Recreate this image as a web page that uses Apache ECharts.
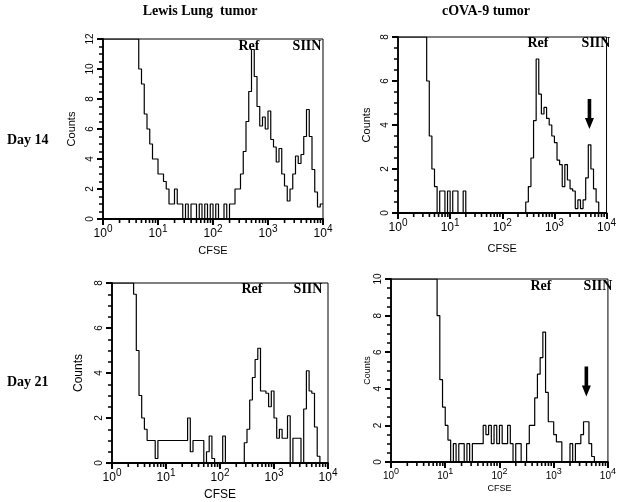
<!DOCTYPE html>
<html><head><meta charset="utf-8">
<script src="https://cdn.jsdelivr.net/npm/echarts@6/dist/echarts.min.js"></script>
<style>html,body{margin:0;padding:0;background:#fff}#c{width:619px;height:502px}</style>
</head><body><div id="c"></div>
<script>
// ---- data ----
const binsPerDecade = 20;            // histogram bins per decade of CFSE
const xTickValues = [1, 10, 100, 1000, 10000];
const minorMultipliers = [2, 3, 4, 5, 6, 7, 8, 9];
const columnTitles = ['Lewis Lung  tumor', 'cOVA-9 tumor'];
const rowTitles = ['Day 14', 'Day 21'];
const peakLabels = ['Ref', 'SIIN'];
const yMaxes = [12, 8, 8, 10];

const lewisDay14 = [12,12,12,12,12,12,12,12,12,12,12,12,12,
  10,9,7,6,5,4,4,3,3,2.5,2,1,1,2,1,1,
  0,1,0,1,1,0,1,0,1,0,1,0,1,0,0,1,0,1,
  1,2,2,3,4.5,6.5,8.5,11.3,9.5,7.5,6.2,6.8,6,7.2,5.3,4.8,3.8,4.7,3,2.2,1.2,2,3,4.2,3.7,4.3,5.5,7.3,5.5,3.3,1.8,0.8,1];
const covaDay14 = [8,8,8,8,8,8,8,8,8,8,8,
  6,3.5,2,1.2,0,1,1,0,1,0,1,1,0,0,1,
  0,0,0,0,0,0,0,0,0,0,0,0,0,0,0,0,0,0,0,0,0,0,0,
  0.5,1.2,2.5,4.2,7,5.4,4.5,4.8,4.3,4,3.5,3.2,2.4,2.2,1.2,2.2,1.5,1.1,1,0.2,0.6,0.2,0.6,1.6,3.1,2,1.1,0.5,0,0,0];
const lewisDay21 = [8,8,8,8,8,8,8,8,
  7.5,5,3,2,1.5,1,1,1,0.2,
  1,1,1,1,1,1,1,1,1,1,1,
  2,0.5,1,1,1,1,0,0.5,1.2,0.2,0,0,0,1.2,
  0,0,0,0,0,0,0,
  0.9,1.5,2.8,3.8,4.6,5.1,3.2,3.2,3.1,2.5,3.2,2,1.1,1.5,1.1,1.1,2.1,0,1.1,1.1,1.1,0,2.4,4.1,3.2,3.1,1.6,0.3,0,0,0];
const covaDay21 = [10,10,10,10,10,10,10,10,10,10,10,10,10,10,10,10,10,
  8,4.5,3,2,1.2,0,1,0,1,1,0,1,0,1,1,1,1,2,1.5,2,1,2,1,2,1,1,2,1,0,1,1,0,0,
  1,2,2,3.5,4.8,5.7,7.1,3.8,2.2,2.2,1.5,1.1,1.1,0,0,0,1,0,1,1,1.5,2.2,2.2,1,0.3,
  0,0,0,0,0];
const panelCounts = [lewisDay14, covaDay14, lewisDay21, covaDay21];
// arrows marking the SIIN peak (CFSE, count) in the cOVA-9 panels
const arrowPoints = [null, [4700, 4.5], null, [4000, 4.4]];

// ---- layout (pixels) ----
const layout = [
  {left:103, top:39, width:220, height:180, nameGapX:26, nameGapY:26, labelSize:12, supSize:10, nameSize:11, ref:[249,46], siin:[307,46]},
  {left:398, top:37, width:215, height:176, nameGapX:30, nameGapY:26, labelSize:12, supSize:10, nameSize:11, ref:[538,43], siin:[596,43]},
  {left:112, top:283, width:216, height:182, nameGapX:26, nameGapY:27, labelSize:12, supSize:10, nameSize:12, ref:[252,289], siin:[308,289]},
  {left:391, top:279, width:225, height:183, nameGapX:22, nameGapY:19, labelSize:10, supSize:9, nameSize:9, ref:[541,286], siin:[598,286]}
];

const minorTicks = [];
xTickValues.slice(0, -1).forEach(d => minorMultipliers.forEach(m => minorTicks.push(m * d)));

function histData(counts) {
  const pts = counts.map((c, i) => [Math.pow(10, i / binsPerDecade), c]);
  pts.push([xTickValues[xTickValues.length - 1], counts[counts.length - 1]]);
  return pts;
}

const grids = [], xAxes = [], yAxes = [], series = [], graphics = [];
const serif = '"Liberation Serif","Times New Roman",serif';
const sans = '"Liberation Sans",Arial,sans-serif';

layout.forEach((L, p) => {
  grids.push({left:L.left, top:L.top, width:L.width, height:L.height, show:true, borderColor:'#000', borderWidth:1, backgroundColor:'transparent'});
  xAxes.push({
    type:'log', logBase:10, min:1, max:10000, gridIndex:p, position:'bottom',
    axisLine:{show:true, onZero:false, lineStyle:{color:'#000', width:1.8}},
    axisTick:{show:true, length:6, lineStyle:{color:'#000', width:2}},
    axisLabel:{show:true, margin:5, color:'#000', showMinLabel:true, showMaxLabel:true,
      formatter: v => '{b|10}{s|' + Math.round(Math.log10(v)) + '}',
      rich:{b:{fontSize:L.labelSize, fontFamily:sans, color:'#000', lineHeight:L.labelSize+4, verticalAlign:'bottom'},
            s:{fontSize:L.supSize, fontFamily:sans, color:'#000', lineHeight:L.supSize, verticalAlign:'top'}}},
    splitLine:{show:false},
    name:'CFSE', nameLocation:'middle', nameGap:L.nameGapX,
    nameTextStyle:{fontFamily:sans, fontSize:L.nameSize, color:'#000'}
  });
  yAxes.push({
    type:'value', min:0, max:yMaxes[p], interval:2, gridIndex:p,
    axisLine:{show:true, onZero:false, lineStyle:{color:'#000', width:1.8}},
    axisTick:{show:true, length:6, lineStyle:{color:'#000', width:2}},
    minorTick:{show:true, splitNumber:4, length:4, lineStyle:{color:'#000', width:1.5}},
    axisLabel:{rotate:90, fontSize:10, fontFamily:sans, color:'#000', margin:8},
    splitLine:{show:false},
    name:'Counts', nameLocation:'middle', nameGap:L.nameGapY, nameRotate:90,
    nameTextStyle:{fontFamily:sans, fontSize:L.nameSize, color:'#000'}
  });
  const s = {
    type:'line', step:'end', xAxisIndex:p, yAxisIndex:p, data:histData(panelCounts[p]),
    symbol:'none', clip:true, animation:false,
    lineStyle:{color:'#000', width:1.2}
  };
  if (arrowPoints[p]) {
    s.markPoint = {
      symbol:'path://M3,0 L7,0 L7,19 L10,19 L5,30 L0,19 L3,19 Z',
      symbolSize:[9,30], itemStyle:{color:'#000'}, label:{show:false}, animation:false,
      data:[{coord:arrowPoints[p]}]
    };
  }
  series.push(s);
  // minor log ticks (2..9 per decade) drawn through the log axis scale
  series.push({
    type:'custom', xAxisIndex:p, yAxisIndex:p, clip:false, silent:true, animation:false,
    data:minorTicks.map(v => [v, 0]),
    renderItem:(params, api) => {
      const pt = api.coord([api.value(0), 0]);
      return {type:'line', shape:{x1:pt[0], y1:pt[1], x2:pt[0], y2:pt[1] + 4},
              style:{stroke:'#000', lineWidth:1.6}};
    }
  });
  [[peakLabels[0], L.ref], [peakLabels[1], L.siin]].forEach(([t, pos]) => {
    graphics.push({type:'text', x:pos[0], y:pos[1], z:10,
      style:{text:t, font:'bold 14px ' + serif, fill:'#000', align:'center', verticalAlign:'middle', textAlign:'center', textVerticalAlign:'middle'}});
  });
});

[[columnTitles[0], 200, 11], [columnTitles[1], 486, 11]].forEach(([t, x, y]) => {
  graphics.push({type:'text', x, y, style:{text:t, font:'bold 14px ' + serif, fill:'#000', align:'center', verticalAlign:'middle', textAlign:'center', textVerticalAlign:'middle'}});
});
[[rowTitles[0], 7, 140], [rowTitles[1], 7, 382]].forEach(([t, x, y]) => {
  graphics.push({type:'text', x, y, style:{text:t, font:'bold 14px ' + serif, fill:'#000', align:'left', verticalAlign:'middle', textAlign:'left', textVerticalAlign:'middle'}});
});

const chart = echarts.init(document.getElementById('c'), null, {renderer:'canvas'});
chart.setOption({
  animation:false, backgroundColor:'#fff',
  grid:grids, xAxis:xAxes, yAxis:yAxes, series, graphic:graphics
});
</script></body></html>
